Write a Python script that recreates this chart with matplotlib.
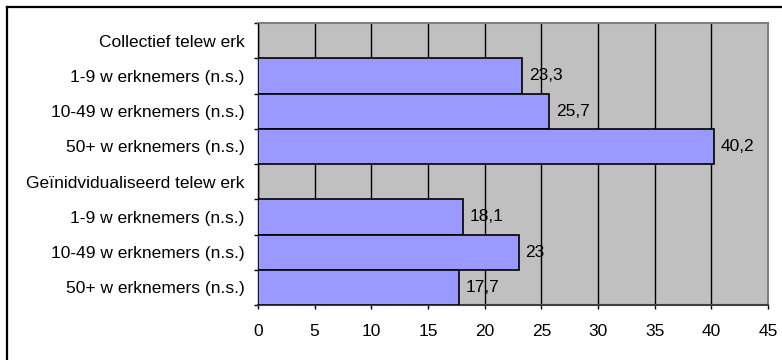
import numpy as np
import matplotlib.pyplot as plt
from matplotlib.lines import Line2D

plt.rcParams['font.family'] = ['Liberation Sans', 'DejaVu Sans']

# rows from top to bottom; header rows carry no value
categories = ['Collectief telew erk',
              '1-9 w erknemers (n.s.)',
              '10-49 w erknemers (n.s.)',
              '50+ w erknemers (n.s.)',
              'Geïnidvidualiseerd telew erk',
              '1-9 w erknemers (n.s.)',
              '10-49 w erknemers (n.s.)',
              '50+ w erknemers (n.s.)']
values = [np.nan, 23.3, 25.7, 40.2, np.nan, 18.1, 23, 17.7]
xticks = [0, 5, 10, 15, 20, 25, 30, 35, 40, 45]

fs = 12.5

fig = plt.figure(figsize=(7.82, 3.6), dpi=100)
ax = fig.add_axes([258/782, 55/360, 510/782, 282/360])
ax.set_facecolor('#C0C0C0')

y = np.arange(len(categories))
ax.barh(y, np.nan_to_num(values), height=1.0, color='#9999FF',
        edgecolor='black', linewidth=1.2, zorder=3)

for yi, v in zip(y, values):
    if np.isnan(v):
        continue
    txt = ('%g' % v).replace('.', ',')
    ax.annotate(txt, (v, yi), xytext=(5, 0), textcoords='offset points',
                va='center', ha='left', fontsize=fs, zorder=4)

ax.set_xlim(0, 45)
ax.set_ylim(len(categories) - 0.5, -0.5)
ax.set_xticks(xticks)
ax.set_xticklabels([str(t) for t in xticks], fontsize=fs)
ax.set_yticks(y)
ax.set_yticklabels(categories, fontsize=fs)
ax.set_yticks(np.arange(len(categories) + 1) - 0.5, minor=True)
ax.tick_params(axis='y', which='major', length=0, pad=9.5)
ax.tick_params(axis='y', which='minor', length=3, width=1, color='black')
ax.tick_params(axis='x', which='major', length=3, width=1, pad=10.5, color='black')

ax.grid(axis='x', color='black', linewidth=1, zorder=1)
ax.set_axisbelow(True)
for side in ['top', 'right']:
    ax.spines[side].set_color('#808080')
    ax.spines[side].set_linewidth(1.5)
ax.spines['left'].set_color('black')
ax.spines['bottom'].set_color('#404040')
ax.spines['left'].set_linewidth(1)
ax.spines['bottom'].set_linewidth(1.5)

# chart frame, left and top edges
bx = 6.5 / 782
by = 1 - 6.5 / 360
fig.add_artist(Line2D([bx, bx], [0, by], transform=fig.transFigure, color='black', linewidth=1.6))
fig.add_artist(Line2D([bx, 1], [by, by], transform=fig.transFigure, color='black', linewidth=1.6))

fig.savefig('out.png', dpi=100)
